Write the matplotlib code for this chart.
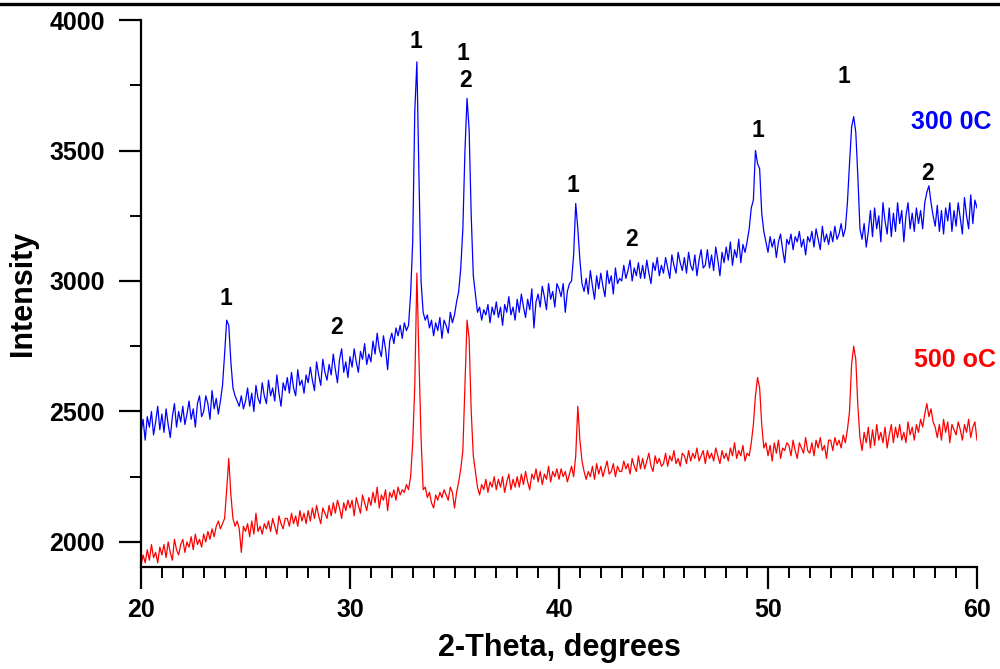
import numpy as np
import matplotlib.pyplot as plt
from matplotlib.lines import Line2D

plt.rcParams['font.family'] = ['Liberation Sans', 'DejaVu Sans']
plt.rcParams['font.weight'] = 'bold'

# scan: 20..60 deg, step 0.1
two_theta = np.round(np.arange(200, 601) / 10.0, 1)

# 300 C sample (blue), one row per degree
i_300 = [
    2420, 2470, 2390, 2480, 2440, 2500, 2410, 2460, 2520, 2430,  # 20
    2490, 2420, 2510, 2450, 2400, 2480, 2530, 2440, 2500, 2460,  # 21
    2520, 2450, 2490, 2540, 2470, 2510, 2440, 2530, 2560, 2480,  # 22
    2500, 2560, 2530, 2470, 2580, 2510, 2550, 2490, 2540, 2600,  # 23
    2720, 2850, 2830, 2690, 2590, 2560, 2540, 2520, 2560, 2510,  # 24
    2540, 2590, 2520, 2570, 2500, 2600, 2550, 2530, 2610, 2560,  # 25
    2530, 2620, 2560, 2590, 2540, 2640, 2570, 2520, 2610, 2580,  # 26
    2630, 2570, 2650, 2590, 2560, 2660, 2600, 2620, 2570, 2640,  # 27
    2610, 2670, 2620, 2580, 2690, 2640, 2600, 2700, 2650, 2620,  # 28
    2680, 2640, 2720, 2660, 2610, 2700, 2740, 2650, 2690, 2630,  # 29
    2710, 2670, 2740, 2690, 2650, 2730, 2700, 2760, 2680, 2720,  # 30
    2690, 2770, 2720, 2800, 2740, 2710, 2790, 2740, 2660, 2770,  # 31
    2800, 2760, 2820, 2790, 2830, 2780, 2840, 2810, 2830, 2950,  # 32
    3150, 3650, 3840, 3400, 3000, 2880, 2850, 2870, 2820, 2850,  # 33
    2790, 2840, 2810, 2860, 2780, 2850, 2830, 2800, 2880, 2840,  # 34
    2870, 2920, 2960, 3050, 3200, 3500, 3700, 3580, 3250, 3020,  # 35
    2950, 2880, 2900, 2850, 2890, 2870, 2910, 2840, 2900, 2870,  # 36
    2920, 2860, 2900, 2830, 2910, 2880, 2940, 2870, 2900, 2850,  # 37
    2930, 2880, 2950, 2900, 2860, 2930, 2890, 2970, 2820, 2920,  # 38
    2950, 2900, 2980, 2940, 2890, 2990, 2930, 2960, 2900, 2990,  # 39
    2970, 2940, 2990, 2880, 2960, 2990, 3000, 3100, 3297, 3200,  # 40
    3080, 2990, 2960, 3010, 2950, 3040, 2980, 2930, 3020, 2970,  # 41
    3030, 2980, 2940, 3040, 2990, 3020, 2950, 3050, 2990, 3010,  # 42
    3000, 3060, 3010, 3040, 3080, 3000, 3050, 3020, 3070, 3010,  # 43
    3060, 3010, 3080, 3030, 2990, 3070, 3040, 3090, 3020, 3060,  # 44
    3030, 3090, 3050, 3010, 3100, 3060, 3030, 3110, 3070, 3040,  # 45
    3090, 3030, 3110, 3060, 3040, 3100, 3020, 3080, 3120, 3050,  # 46
    3060, 3120, 3050, 3100, 3040, 3130, 3080, 3020, 3110, 3070,  # 47
    3130, 3080, 3150, 3060, 3120, 3090, 3160, 3070, 3140, 3110,  # 48
    3150, 3200, 3280, 3310, 3500, 3450, 3430, 3260, 3190, 3150,  # 49
    3110, 3170, 3130, 3160, 3090, 3150, 3180, 3120, 3070, 3160,  # 50
    3140, 3180, 3120, 3170, 3150, 3190, 3130, 3160, 3100, 3170,  # 51
    3150, 3190, 3130, 3200, 3160, 3120, 3210, 3150, 3180, 3140,  # 52
    3190, 3150, 3210, 3160, 3180, 3220, 3170, 3200, 3300, 3450,  # 53
    3590, 3630, 3570, 3400, 3200, 3160, 3220, 3130, 3190, 3270,  # 54
    3170, 3280, 3200, 3250, 3150, 3300, 3230, 3180, 3280, 3170,  # 55
    3260, 3190, 3300, 3220, 3270, 3150, 3250, 3300, 3200, 3260,  # 56
    3190, 3280, 3220, 3270, 3200, 3300, 3340, 3365, 3300, 3250,  # 57
    3210, 3290, 3190, 3270, 3180, 3280, 3230, 3300, 3190, 3270,  # 58
    3210, 3300, 3240, 3180, 3320, 3250, 3200, 3330, 3220, 3310,  # 59
    3280,                                                        # 60
]

# 500 C sample (red)
i_500 = [
    1910, 1950, 1920, 1970, 1930, 1990, 1940, 1960, 1920, 1980,  # 20
    1950, 1990, 1940, 2000, 1960, 1930, 2010, 1970, 1950, 1990,  # 21
    2010, 1960, 2000, 1980, 2020, 1970, 2030, 1990, 2010, 1980,  # 22
    2030, 2000, 2040, 2010, 2050, 2020, 2060, 2080, 2050, 2070,  # 23
    2090, 2200, 2320, 2180, 2090, 2060, 2080, 2050, 1960, 2060,  # 24
    2040, 2070, 2020, 2080, 2030, 2110, 2040, 2060, 2030, 2070,  # 25
    2050, 2080, 2040, 2090, 2060, 2030, 2100, 2070, 2050, 2090,  # 26
    2090, 2060, 2110, 2070, 2100, 2060, 2120, 2080, 2110, 2070,  # 27
    2120, 2080, 2130, 2090, 2140, 2100, 2070, 2130, 2110, 2090,  # 28
    2140, 2100, 2150, 2110, 2160, 2130, 2090, 2150, 2120, 2160,  # 29
    2130, 2160, 2100, 2170, 2140, 2110, 2180, 2150, 2120, 2170,  # 30
    2140, 2190, 2150, 2210, 2130, 2180, 2160, 2200, 2120, 2190,  # 31
    2170, 2200, 2160, 2210, 2180, 2200, 2190, 2220, 2200, 2250,  # 32
    2380, 2600, 3030, 2700, 2400, 2200, 2210, 2170, 2190, 2150,  # 33
    2130, 2180, 2160, 2190, 2170, 2200, 2180, 2160, 2210, 2190,  # 34
    2130, 2190, 2230, 2280, 2350, 2600, 2850, 2780, 2500, 2330,  # 35
    2270, 2210, 2180, 2220, 2200, 2240, 2190, 2230, 2210, 2250,  # 36
    2200, 2240, 2210, 2250, 2190, 2230, 2260, 2200, 2240, 2210,  # 37
    2250, 2210, 2260, 2220, 2270, 2230, 2200, 2260, 2240, 2280,  # 38
    2230, 2270, 2220, 2260, 2240, 2290, 2230, 2270, 2250, 2280,  # 39
    2240, 2280, 2250, 2270, 2230, 2260, 2290, 2250, 2330, 2520,  # 40
    2390, 2310, 2270, 2240, 2270, 2250, 2290, 2240, 2300, 2260,  # 41
    2290, 2250, 2280, 2310, 2260, 2270, 2300, 2250, 2290, 2270,  # 42
    2270, 2310, 2280, 2300, 2260, 2320, 2290, 2270, 2330, 2280,  # 43
    2320, 2280, 2310, 2340, 2290, 2270, 2330, 2300, 2320, 2290,  # 44
    2300, 2340, 2290, 2330, 2310, 2350, 2300, 2320, 2290, 2340,  # 45
    2330, 2300, 2350, 2310, 2340, 2320, 2360, 2310, 2330, 2350,  # 46
    2300, 2350, 2320, 2340, 2310, 2360, 2330, 2300, 2350, 2320,  # 47
    2340, 2310, 2360, 2330, 2380, 2320, 2350, 2330, 2370, 2310,  # 48
    2340, 2330, 2380, 2450, 2560, 2630, 2590, 2450, 2360, 2380,  # 49
    2330, 2370, 2310, 2380, 2340, 2390, 2320, 2360, 2350, 2380,  # 50
    2370, 2330, 2390, 2350, 2320, 2380, 2360, 2340, 2400, 2350,  # 51
    2340, 2380, 2330, 2390, 2360, 2400, 2350, 2370, 2320, 2390,  # 52
    2390, 2350, 2400, 2370, 2390, 2360, 2410, 2380, 2430, 2500,  # 53
    2680, 2750, 2700, 2520, 2400, 2350, 2420, 2380, 2440, 2360,  # 54
    2430, 2370, 2450, 2390, 2420, 2380, 2440, 2360, 2410, 2450,  # 55
    2380, 2440, 2400, 2450, 2390, 2420, 2380, 2460, 2410, 2440,  # 56
    2390, 2450, 2420, 2470, 2440, 2490, 2530, 2480, 2510, 2460,  # 57
    2440, 2400, 2450, 2390, 2470, 2420, 2460, 2380, 2450, 2430,  # 58
    2410, 2460, 2430, 2390, 2450, 2420, 2470, 2400, 2440, 2460,  # 59
    2390,                                                        # 60
]

# phase markers above the peaks
mark_text = ['1', '2', '1', '1', '2', '1', '2', '1', '1', '2']
mark_x = [24.05, 29.36, 33.17, 35.42, 35.55, 40.68, 43.48, 49.5, 53.65, 57.62]
mark_y = [2933, 2820, 3918, 3873, 3767, 3365, 3160, 3577, 3782, 3411]

fig = plt.figure(figsize=(10, 6.69), dpi=100)
ax = fig.add_axes([0.141, 0.1525, 0.836, 0.8175])

ax.plot(two_theta, i_300, color='#0000ff', lw=0.9)
ax.plot(two_theta, i_500, color='#ff0000', lw=0.9)

for t, x, y in zip(mark_text, mark_x, mark_y):
    ax.text(x, y, t, ha='center', va='center', fontsize=16.5, fontweight='bold', color='black')

ax.text(58.76, 3609, '300 0C', ha='center', va='center', fontsize=18, fontweight='bold', color='#0000ff')
ax.text(58.95, 2697, '500 oC', ha='center', va='center', fontsize=18, fontweight='bold', color='#ff0000')

ax.set_xlim(20, 60)
ax.set_ylim(1904, 4000)
ax.set_xticks([20, 30, 40, 50, 60])
ax.set_xticks(np.arange(20, 61, 1), minor=True)
ax.set_yticks([2000, 2500, 3000, 3500, 4000])
ax.set_yticks([2250, 2750, 3250, 3750], minor=True)

for s in ['top', 'right']:
    ax.spines[s].set_visible(False)
for s in ['left', 'bottom']:
    ax.spines[s].set_linewidth(1.6)

ax.tick_params(which='major', direction='out', length=16, width=1.6, labelsize=18)
ax.tick_params(which='minor', direction='out', length=8, width=1.4)
ax.tick_params(axis='x', which='major', pad=6)
ax.tick_params(axis='y', which='major', pad=10)
for lab in ax.get_xticklabels() + ax.get_yticklabels():
    lab.set_fontweight('bold')

ax.set_xlabel('2-Theta, degrees', fontsize=22, fontweight='bold', labelpad=8)
ax.set_ylabel('Intensity', fontsize=22, fontweight='bold', labelpad=8)

# border line along the top of the picture
fig.add_artist(Line2D([0, 1], [1 - 4 / 669, 1 - 4 / 669], transform=fig.transFigure,
                      color='black', lw=2.4))

fig.savefig('out.png', dpi=100)
